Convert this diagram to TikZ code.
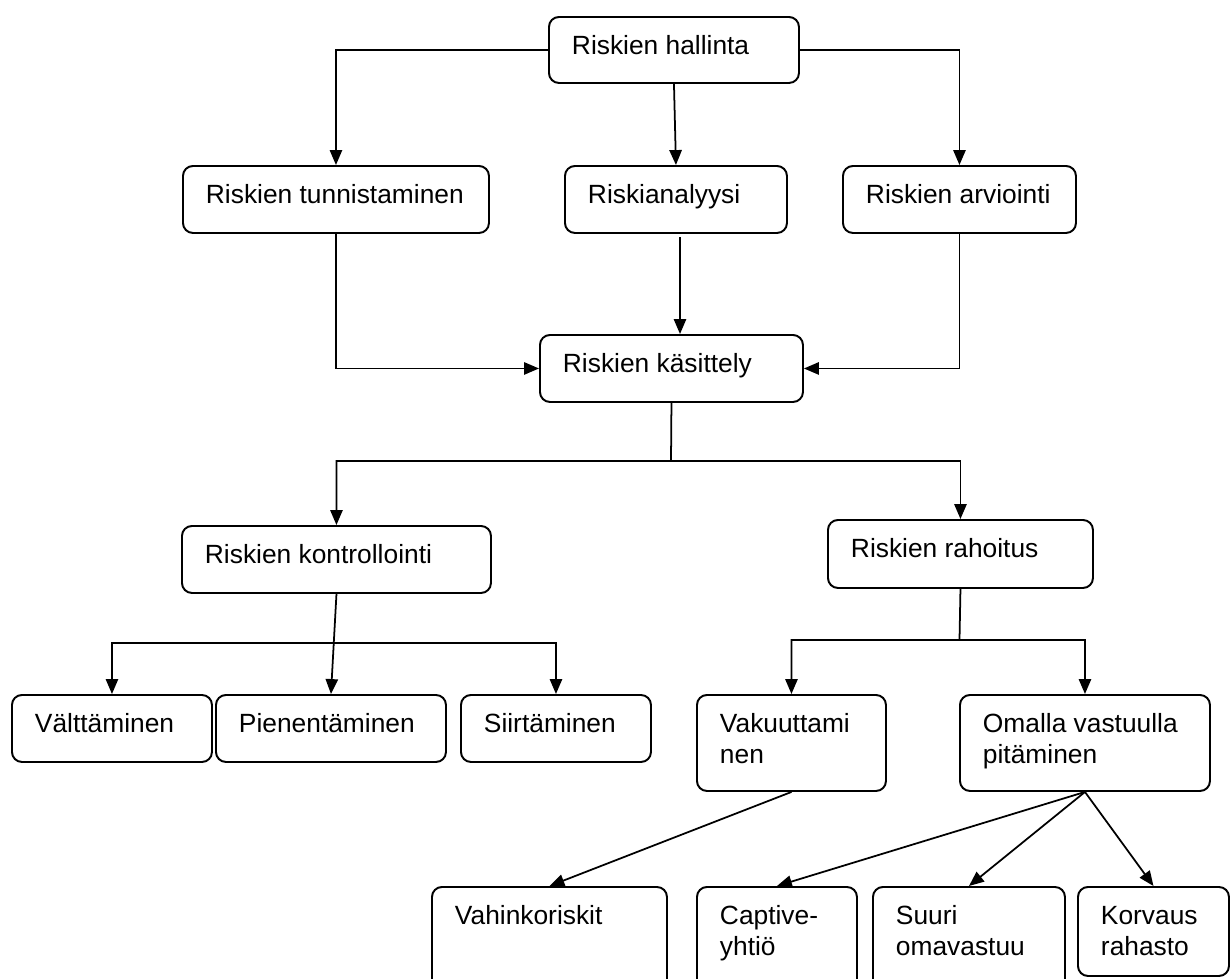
\documentclass[tikz,border=0pt]{standalone}
\usepackage{fontspec}
\setmainfont{Liberation Sans}
\usetikzlibrary{arrows.meta}
\newlength\px
\setlength\px{0.02cm}
\newcommand\mybox[6]{%
  \node[boxnode, anchor=north west] (#1) at (#2,#3)
    {\parbox[t][\dimexpr\px*(#5-#3)\relax][t]{\dimexpr\px*(#4-#2)\relax}{\raggedright\leftskip=23\px\rule{0pt}{38\px}#6}};}
\tikzset{
  boxnode/.style={draw, line width=1.1pt, rounded corners=0.2cm, inner sep=0pt, fill=white,
    font=\fontsize{15}{17.6}\selectfont},
  arr/.style={line width=1pt, -{Triangle[length=8.5pt,width=7pt]}},
}
\begin{document}
\begin{tikzpicture}[x=0.02cm,y=-0.02cm]
\useasboundingbox (0,0) rectangle (1231,978);
\clip (0,0) rectangle (1231,978);
\fill[white] (0,0) rectangle (1231,978);

\mybox{hal}{548}{16}{798}{82}{Riskien hallinta}
\mybox{tun}{182}{165}{488}{232}{Riskien tunnistaminen}
\mybox{ana}{564}{165}{786}{232}{Riskianalyysi}
\mybox{arv}{842}{165}{1075}{232}{Riskien arviointi}
\mybox{kas}{539}{334}{802}{401}{Riskien käsittely}
\mybox{kon}{181}{525}{490}{592}{Riskien kontrollointi}
\mybox{rah}{827}{519}{1092}{587}{Riskien rahoitus}
\mybox{val}{11}{694}{211}{761}{Välttäminen}
\mybox{pie}{215}{694}{445}{761}{Pienentäminen}
\mybox{sii}{460}{694}{650}{761}{Siirtäminen}
\mybox{vak}{696}{694}{885}{790}{Vakuuttami\\nen}
\mybox{oma}{959}{694}{1209}{790}{Omalla vastuulla\\pitäminen}
\mybox{vah}{431}{886}{666}{1000}{Vahinkoriskit}
\mybox{cap}{696}{886}{856}{1000}{Captive-\\yhtiö}
\mybox{suu}{872}{886}{1064}{1000}{Suuri\\omavastuu}
\mybox{kor}{1077}{886}{1228}{975}{Korvaus\\rahasto}

% top level
\draw[arr] (hal.west) -| (tun.north);
\draw[arr] (hal.east) -| (arv.north);
\draw[arr] (hal.south) -- (ana.north);

% into käsittely
\draw[arr] (tun.south) |- (kas.west);
\draw[arr] (arv.south) |- (kas.east);
\coordinate (a1) at (680,237);
\draw[arr] (a1) -- (a1 |- kas.north);

% käsittely split
\coordinate (j1) at (671,461);
\draw[arr] (kas.south) -- (j1) -| (kon.north);
\draw[arr] (j1) -| (rah.north);

% kontrollointi split
\draw[arr] (kon.south) -- (pie.north);
\coordinate (j2) at (334,643);
\draw[arr] (j2) -| (val.north);
\draw[arr] (j2) -| (sii.north);

% rahoitus split
\coordinate (j3) at (959.5,640);
\draw[arr] (rah.south) -- (j3) -| (vak.north);
\draw[arr] (j3) -| (oma.north);

% bottom
\draw[arr] (vak.south) -- (vah.north);
\draw[arr] (oma.south) -- (cap.north);
\draw[arr] (oma.south) -- (suu.north);
\draw[arr] (oma.south) -- (kor.north);
\end{tikzpicture}
\end{document}
